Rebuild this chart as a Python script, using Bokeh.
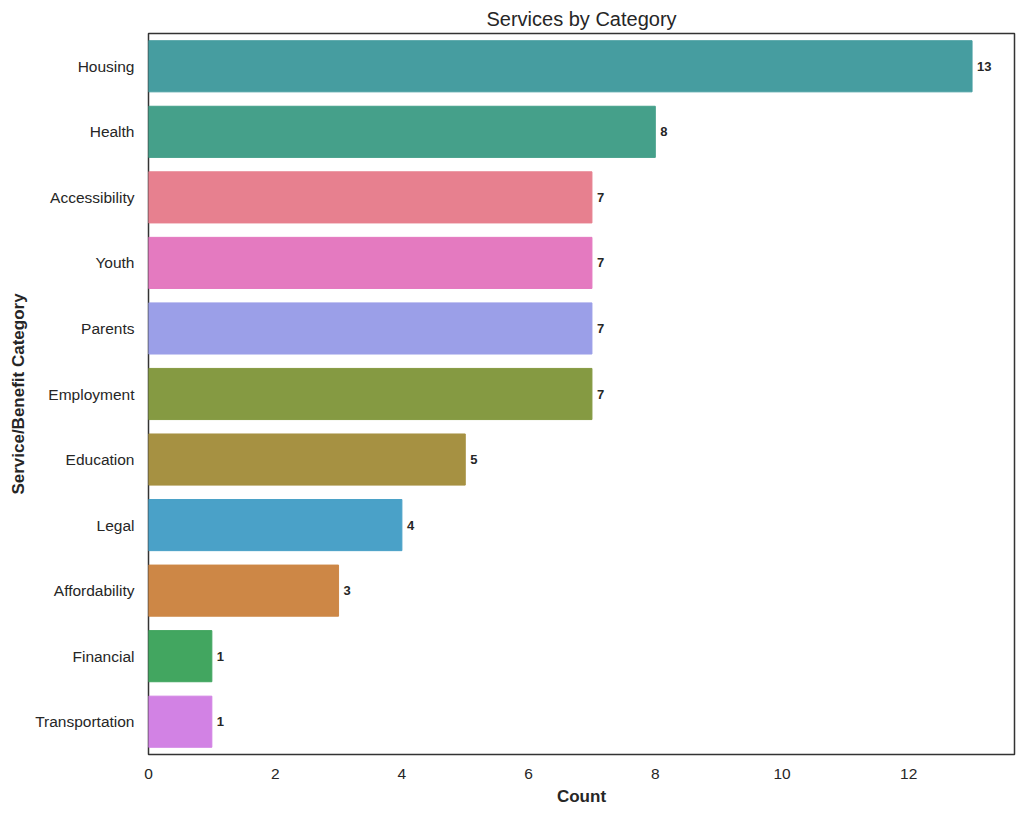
from bokeh.plotting import figure
from bokeh.models import ColumnDataSource, FactorRange, Range1d, LabelSet, FixedTicker
from bokeh.core.properties import value
from bokeh.embed import file_html
from bokeh.resources import INLINE

categories = ["Housing", "Health", "Accessibility", "Youth", "Parents", "Employment",
              "Education", "Legal", "Affordability", "Financial", "Transportation"]
counts = [13, 8, 7, 7, 7, 7, 5, 4, 3, 1, 1]
colors = ["#469DA0", "#45A08A", "#E7808F", "#E47AC0", "#9B9FE8", "#859A42",
          "#A69142", "#4AA1C8", "#CD8746", "#42A660", "#D282E4"]
x_ticks = [0, 2, 4, 6, 8, 10, 12]

src = ColumnDataSource(dict(cat=categories, count=counts, color=colors,
                            label=[str(c) for c in counts]))

FONT = "Liberation Sans"
p = figure(width=1020, height=808, output_backend="svg", toolbar_location=None,
           y_range=FactorRange(factors=list(reversed(categories))),
           x_range=Range1d(0, 13.67),
           title="Services by Category")
p.min_border_left = 148
p.min_border_right = 6
p.min_border_top = 33
p.min_border_bottom = 53

p.hbar(y="cat", right="count", left=0, height=0.78, color="color", source=src)

labels = LabelSet(x="count", y="cat", text="label", source=src, x_offset=5,
                  text_baseline="middle", text_align="left", text_font_size="13px",
                  text_font_style="bold", text_color="#262626", text_font=value(FONT))
p.add_layout(labels)

p.title.align = "center"
p.title.text_font = FONT
p.title.text_font_size = "20px"
p.title.text_font_style = "normal"
p.title.text_color = "#262626"
p.title.standoff = 8

p.xgrid.visible = False
p.ygrid.visible = False
p.outline_line_color = "#333333"
p.outline_line_width = 1.5

p.xaxis.ticker = FixedTicker(ticks=x_ticks)
for ax in (p.xaxis[0], p.yaxis[0]):
    ax.axis_line_color = None
    ax.major_tick_line_color = None
    ax.minor_tick_line_color = None
    ax.major_tick_out = 0
    ax.major_tick_in = 0
    ax.major_label_text_font = FONT
    ax.major_label_text_font_size = "15.5px"
    ax.major_label_text_color = "#262626"
    ax.axis_label_text_font = FONT
    ax.axis_label_text_font_size = "17px"
    ax.axis_label_text_font_style = "bold"
    ax.axis_label_text_color = "#262626"

p.xaxis.axis_label = "Count"
p.yaxis.axis_label = "Service/Benefit Category"
p.xaxis.major_label_standoff = 14
p.yaxis.major_label_standoff = 14
p.xaxis.axis_label_standoff = 5
p.yaxis.axis_label_standoff = 4

open("out.html", "w").write(file_html(p, INLINE))
